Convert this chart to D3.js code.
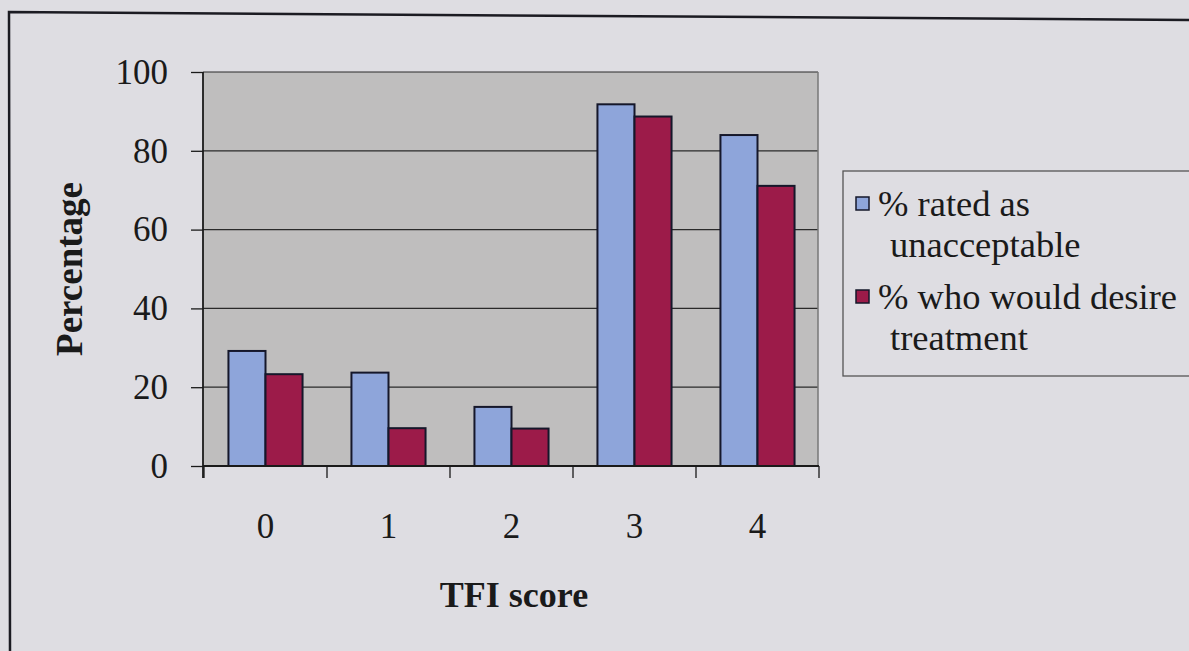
<!DOCTYPE html>
<html><head><meta charset="utf-8">
<script src="https://cdn.jsdelivr.net/npm/d3@7"></script>
<style>html,body{margin:0;padding:0;background:#dedde2;}svg{display:block;}text{font-family:'Liberation Serif','Times New Roman',serif;}</style>
</head><body><svg id="c" width="1189" height="651"></svg>
<script>
const categories = ["0","1","2","3","4"];
const seriesNames = ["% rated as unacceptable","% who would desire treatment"];
const unacceptable = [29.2, 23.7, 15.0, 91.8, 84.0];
const desireTreatment = [23.3, 9.6, 9.5, 88.7, 71.1];
const yTicks = [0,20,40,60,80,100];
const legendLines = [["% rated as","unacceptable"],["% who would desire","treatment"]];
const colors = ["#8ea5da","#9c1b49"];

const svg = d3.select("#c");
const font = "'Liberation Serif','Times New Roman',serif";
const L = 203, R = 818, T = 72, B = 466;

// frame
svg.append("path").attr("d","M10,651 L9,12 L1189,20").attr("fill","none").attr("stroke","#1b1b22").attr("stroke-width",2.5);

const x = d3.scaleBand().domain(categories).range([L+1, R+1]);
const x1 = d3.scaleBand().domain([0,1]).range([0, x.bandwidth()]).paddingOuter(0.66);
const y = d3.scaleLinear().domain([0,100]).range([B,T]);

svg.append("rect").attr("x",L).attr("y",T).attr("width",R-L).attr("height",B-T).attr("fill","#bfbebe");
// gridlines
svg.append("g").selectAll("line").data(yTicks.filter(d=>d>0)).join("line")
  .attr("x1",L).attr("x2",R).attr("y1",d=>y(d)).attr("y2",d=>y(d))
  .attr("stroke","#2a2a2a").attr("stroke-width",1.2);
// right border
svg.append("line").attr("x1",R).attr("x2",R).attr("y1",T).attr("y2",B).attr("stroke","#777").attr("stroke-width",1.5);

// bars
const data = categories.map((c,i)=>[unacceptable[i], desireTreatment[i]]);
const g = svg.append("g").selectAll("g").data(data).join("g").attr("transform",(d,i)=>`translate(${x(categories[i])},0)`);
g.selectAll("rect").data(d=>d).join("rect")
  .attr("x",(d,j)=>x1(j)).attr("width",x1.bandwidth())
  .attr("y",d=>y(d)).attr("height",d=>B-y(d))
  .attr("fill",(d,j)=>colors[j]).attr("stroke","#15172a").attr("stroke-width",2);

// y axis
const ya = svg.append("g").attr("transform",`translate(${L},0)`)
  .call(d3.axisLeft(y).tickValues(yTicks).tickSize(12).tickPadding(23));
ya.attr("font-family",null);
ya.select(".domain").attr("stroke","#1a1a1a").attr("stroke-width",1.8).attr("d",`M0,${T}V${B+12}`);
ya.selectAll(".tick line").attr("stroke","#1a1a1a").attr("stroke-width",1.3);
ya.selectAll("text").style("font-family",font).attr("font-size",35).attr("fill","#1a1a1a");

// x axis
const xa = svg.append("g").attr("transform",`translate(0,${B})`);
xa.append("line").attr("x1",L).attr("x2",R+1).attr("y1",0).attr("y2",0).attr("stroke","#1a1a1a").attr("stroke-width",1.8);
const edges = categories.map(c=>x(c)).concat([x(categories[categories.length-1])+x.bandwidth()]);
xa.selectAll("line.t").data(edges).join("line").attr("class","t")
  .attr("x1",d=>d).attr("x2",d=>d).attr("y1",0).attr("y2",12).attr("stroke","#1a1a1a").attr("stroke-width",1.3);
xa.selectAll("text").data(categories).join("text")
  .attr("x",d=>x(d)+x.bandwidth()/2).attr("y",72).attr("text-anchor","middle")
  .style("font-family",font).attr("font-size",35).attr("fill","#1a1a1a").text(d=>d);

// titles
svg.append("text").attr("x",514).attr("y",607).attr("text-anchor","middle")
  .style("font-family",font).attr("font-weight","bold").attr("font-size",36).attr("fill","#1a1a1a").text("TFI score");
svg.append("text").attr("transform","translate(82,269) rotate(-90)").attr("text-anchor","middle")
  .style("font-family",font).attr("font-weight","bold").attr("font-size",37).attr("fill","#1a1a1a").text("Percentage");

// legend
svg.append("rect").attr("x",843).attr("y",171).attr("width",360).attr("height",205)
  .attr("fill","none").attr("stroke","#555").attr("stroke-width",1.3);
const lg = svg.append("g").selectAll("g").data(seriesNames).join("g")
  .attr("transform",(d,i)=>`translate(856,${197+i*93})`);
lg.append("rect").attr("width",13).attr("height",13).attr("fill",(d,i)=>colors[i]).attr("stroke","#15172a").attr("stroke-width",1.5);
lg.each(function(d,i){
  d3.select(this).selectAll("text").data(legendLines[i]).join("text")
    .attr("x",(t,k)=>k===0?22:34).attr("y",(t,k)=>19+k*41)
    .style("font-family",font).attr("font-size",36.5).attr("fill","#1a1a1a").text(t=>t);
});
</script></body></html>
